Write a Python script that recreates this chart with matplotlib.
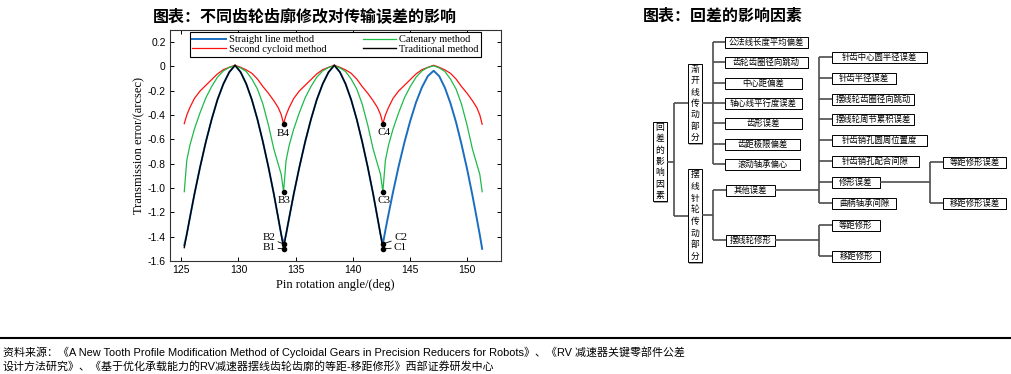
import matplotlib.pyplot as plt
from matplotlib.patches import Rectangle

# ---- 数据：传输误差曲线 ----
angle = [125.25, 125.47, 125.74, 126.14, 126.63, 127.14, 127.65, 128.16, 128.68, 129.19, 129.7,
         130.19, 130.68, 131.17, 131.66, 132.14, 132.63, 133.1, 133.48, 133.74, 133.95,
         134.17, 134.44, 134.84, 135.33, 135.84, 136.35, 136.86, 137.38, 137.89, 138.4,
         138.89, 139.38, 139.87, 140.36, 140.84, 141.33, 141.8, 142.18, 142.44, 142.65,
         142.87, 143.14, 143.54, 144.03, 144.54, 145.05, 145.56, 146.08, 146.59, 147.1,
         147.59, 148.08, 148.57, 149.06, 149.54, 150.03, 150.5, 150.88, 151.14, 151.35]

straight_line = [-1.47, -1.38, -1.245, -1.05, -0.83, -0.62, -0.435, -0.273, -0.143, -0.047, 0.01,
                 -0.047, -0.143, -0.273, -0.435, -0.62, -0.83, -1.05, -1.245, -1.38, -1.46,
                 -1.38, -1.245, -1.05, -0.83, -0.62, -0.435, -0.273, -0.143, -0.047, 0.01,
                 -0.047, -0.143, -0.273, -0.435, -0.62, -0.83, -1.05, -1.245, -1.38, -1.46,
                 -1.347, -1.218, -1.033, -0.822, -0.624, -0.447, -0.294, -0.170, -0.079, -0.035,
                 -0.080, -0.174, -0.302, -0.458, -0.640, -0.844, -1.061, -1.251, -1.384, -1.50]

second_cycloid = [-0.47, -0.40, -0.338, -0.263, -0.202, -0.155, -0.108, -0.061, -0.026, -0.007, 0.01,
                  -0.007, -0.028, -0.056, -0.103, -0.165, -0.221, -0.282, -0.338, -0.395, -0.47,
                  -0.40, -0.338, -0.263, -0.202, -0.155, -0.108, -0.061, -0.026, -0.007, 0.01,
                  -0.007, -0.028, -0.056, -0.103, -0.165, -0.221, -0.282, -0.338, -0.395, -0.47,
                  -0.40, -0.338, -0.263, -0.202, -0.155, -0.108, -0.061, -0.026, -0.007, 0.01,
                  -0.007, -0.028, -0.056, -0.103, -0.165, -0.221, -0.282, -0.338, -0.398, -0.475]

catenary = [-1.03, -0.773, -0.649, -0.515, -0.381, -0.258, -0.165, -0.088, -0.036, -0.008, 0.005,
            -0.012, -0.041, -0.103, -0.185, -0.309, -0.484, -0.680, -0.803, -0.886, -1.03,
            -0.773, -0.649, -0.515, -0.381, -0.258, -0.165, -0.088, -0.036, -0.008, 0.005,
            -0.012, -0.041, -0.103, -0.185, -0.309, -0.484, -0.680, -0.803, -0.886, -1.03,
            -0.773, -0.649, -0.515, -0.381, -0.258, -0.165, -0.088, -0.036, -0.008, 0.005,
            -0.012, -0.041, -0.103, -0.185, -0.309, -0.484, -0.680, -0.803, -0.886, -1.03]

traditional = [-1.49, -1.38, -1.245, -1.05, -0.83, -0.62, -0.435, -0.273, -0.143, -0.047, 0.01,
               -0.047, -0.143, -0.273, -0.435, -0.62, -0.83, -1.05, -1.245, -1.38, -1.50,
               -1.38, -1.245, -1.05, -0.83, -0.62, -0.435, -0.273, -0.143, -0.047, 0.01,
               -0.047, -0.143, -0.273, -0.435, -0.62, -0.83, -1.05, -1.245, -1.38, -1.50]

cusp_labels = ['B1', 'B2', 'B3', 'B4', 'C1', 'C2', 'C3', 'C4']
cusp_x = [133.95, 133.95, 133.95, 133.95, 142.65, 142.65, 142.65, 142.65]
cusp_y = [-1.50, -1.46, -1.03, -0.47, -1.50, -1.46, -1.03, -0.47]

x_ticks = [125, 130, 135, 140, 145, 150]
y_ticks = [-1.6, -1.4, -1.2, -1.0, -0.8, -0.6, -0.4, -0.2, 0, 0.2]
y_tick_labels = ['-1.6', '-1.4', '-1.2', '-1.0', '-0.8', '-0.6', '-0.4', '-0.2', '0', '0.2']

# ---- 数据：回差影响因素树 ----
root_label = '回差的影响因素'
branch_labels = ['渐开线传动部分', '摆线针轮传动部分']
involute_items = ['公法线长度平均偏差', '齿轮齿圈径向跳动', '中心距偏差', '轴心线平行度误差',
                  '齿形误差', '齿距极限偏差', '滚动轴承偏心']
cycloid_groups = ['其他误差', '摆线轮修形']
other_items = ['针齿中心圆半径误差', '针齿半径误差', '摆线轮齿圈径向跳动', '摆线轮周节累积误差',
               '针齿销孔圆周位置度', '针齿销孔配合间隙', '修形误差', '曲柄轴承间隙']
modify_err_items = ['等距修形误差', '移距修形误差']
modify_items = ['等距修形', '移距修形']

title_left = '图表：不同齿轮齿廓修改对传输误差的影响'
title_right = '图表：回差的影响因素'
source_lines = ['资料来源：《A New Tooth Profile Modification Method of Cycloidal Gears in Precision Reducers for Robots》、《RV 减速器关键零部件公差',
                '设计方法研究》、《基于优化承载能力的RV减速器摆线齿轮齿廓的等距-移距修形》西部证券研发中心']

CJK = ['Noto Sans CJK SC', 'DejaVu Sans']
SERIF = 'Liberation Serif'

fig = plt.figure(figsize=(10.12, 3.74), dpi=100)

# 全图覆盖层（像素坐标）
ov = fig.add_axes([0, 0, 1, 1])
ov.set_xlim(0, 1012)
ov.set_ylim(374, 0)
ov.axis('off')

# ---- 左图：传输误差 ----
ax = fig.add_axes([170 / 1012, 1 - 261 / 374, 331 / 1012, 231 / 374])
ax.plot(angle, straight_line, color='#1a6ec0', lw=1.4, label='Straight line method')
ax.plot(angle, second_cycloid, color='#ff1010', lw=0.9, label='Second cycloid method')
ax.plot(angle, catenary, color='#1dbb48', lw=0.9, label='Catenary method')
ax.plot(angle[:len(traditional)], traditional, color='black', lw=1.0, label='Traditional method')

ax.plot(cusp_x, cusp_y, 'o', color='black', ms=3, zorder=5)
label_pos = {'B1': (-1.3, 0.01), 'B2': (-1.3, 0.05), 'B3': (0.05, -0.075), 'B4': (-0.05, -0.08),
             'C1': (1.55, 0.01), 'C2': (1.55, 0.05), 'C3': (0.1, -0.07), 'C4': (0.1, -0.07)}
for lab, x, y in zip(cusp_labels, cusp_x, cusp_y):
    dx, dy = label_pos[lab]
    leader = lab[1] in '12'
    ax.annotate(lab, (x, y), xytext=(x + dx, y + dy), ha='center', va='center',
                fontsize=8, family=SERIF,
                arrowprops=dict(arrowstyle='-', lw=0.6, color='black', shrinkA=0, shrinkB=0) if leader else None)

ax.set_xlim(124, 153)
ax.set_ylim(-1.6, 0.3)
ax.set_xticks(x_ticks)
ax.set_yticks(y_ticks)
ax.set_yticklabels(y_tick_labels)
ax.tick_params(direction='in', top=True, right=True, length=3, width=0.7, labelsize=7.5, pad=3)
for t in ax.get_xticklabels() + ax.get_yticklabels():
    t.set_fontfamily('Liberation Sans')
for s in ax.spines.values():
    s.set_linewidth(0.8)
    s.set_color('#333333')
ax.set_xlabel('Pin rotation angle/(deg)', family=SERIF, fontsize=9, labelpad=3)
ax.set_ylabel('Transmission error/(arcsec)', family=SERIF, fontsize=9, labelpad=2)

leg = ax.legend(ncol=2, loc='upper center', bbox_to_anchor=(0.5, 0.99),
                prop={'family': SERIF, 'size': 7.5}, fancybox=False, edgecolor='black',
                framealpha=1, handlelength=3.2, handletextpad=0.3, columnspacing=3.5,
                labelspacing=0.05, borderpad=0.25, borderaxespad=0)
leg.get_frame().set_linewidth(0.8)

# ---- 标题 ----
ov.text(153, 16, title_left, ha='left', va='center', fontsize=11.5, fontweight='bold', family=CJK)
ov.text(643, 16, title_right, ha='left', va='center', fontsize=11.5, fontweight='bold', family=CJK)

# ---- 右图：树状图 ----
LINE = '#4d4d4d'


def seg(xs, ys):
    ov.plot(xs, ys, color=LINE, lw=1.2, solid_capstyle='butt')


def box(x0, x1, yc, text, h=11):
    ov.add_patch(Rectangle((x0 + 1.5, yc - h / 2 + 1.5), x1 - x0, h, facecolor='#a0a0a0', edgecolor='none'))
    ov.add_patch(Rectangle((x0, yc - h / 2), x1 - x0, h, facecolor='white', edgecolor='black', lw=0.7))
    ov.text((x0 + x1) / 2, yc + 0.5, text, ha='center', va='center', fontsize=6, family=CJK)


def vbox(x0, x1, y0, y1, text):
    ov.add_patch(Rectangle((x0 + 1.5, y0 + 1.5), x1 - x0, y1 - y0, facecolor='#a0a0a0', edgecolor='none'))
    ov.add_patch(Rectangle((x0, y0), x1 - x0, y1 - y0, facecolor='white', edgecolor='black', lw=0.7))
    step = (y1 - y0) / len(text)
    for i, ch in enumerate(text):
        ov.text((x0 + x1) / 2, y0 + step * (i + 0.5), ch, ha='center', va='center', fontsize=6.3, family=CJK)


# 连接线
seg([667, 674], [162, 162])
seg([674, 674], [103, 216])
seg([674, 688], [103, 103])
seg([674, 688], [216, 216])

inv_x1 = [808, 808, 802, 802, 802, 800, 800]
inv_y = [42, 62, 83, 103, 123, 144, 164]
seg([702, 713], [103, 103])
seg([713, 713], [inv_y[0], inv_y[-1]])
for lab, x1, y in zip(involute_items, inv_x1, inv_y):
    seg([713, 725], [y, y])
    box(725, x1, y, lab)

grp_x1 = [775, 775]
grp_y = [190, 240]
seg([702, 713], [215, 215])
seg([713, 713], [grp_y[0], grp_y[1]])
for lab, x1, y in zip(cycloid_groups, grp_x1, grp_y):
    seg([713, 726], [y, y])
    box(726, x1, y, lab)

other_x1 = [927, 896, 914, 914, 927, 919, 880, 896]
other_y = [57, 78, 99, 119, 140, 161, 182, 203]
seg([775, 819], [190, 190])
seg([819, 819], [other_y[0], other_y[-1]])
for lab, x1, y in zip(other_items, other_x1, other_y):
    seg([819, 832], [y, y])
    box(832, x1, y, lab)

merr_y = [162, 203]
seg([880, 930], [182, 182])
seg([930, 930], [merr_y[0], merr_y[1]])
for lab, y in zip(modify_err_items, merr_y):
    seg([930, 943], [y, y])
    box(943, 1006, y, lab)

mod_y = [225, 256]
seg([775, 819], [240, 240])
seg([819, 819], [mod_y[0], mod_y[1]])
for lab, y in zip(modify_items, mod_y):
    seg([819, 832], [y, y])
    box(832, 880, y, lab)

vbox(653, 667, 122, 201, root_label)
vbox(688, 702, 64, 143, branch_labels[0])
vbox(688, 702, 169, 262, branch_labels[1])

# ---- 底部来源 ----
ov.plot([0, 1012], [338, 338], color='black', lw=1.5)
ov.text(3, 352, source_lines[0], ha='left', va='center', fontsize=7.9, family=['Liberation Sans', 'Noto Sans CJK SC'])
ov.text(3, 366, source_lines[1], ha='left', va='center', fontsize=7.9, family=['Liberation Sans', 'Noto Sans CJK SC'])

fig.savefig('out.png', dpi=100)
